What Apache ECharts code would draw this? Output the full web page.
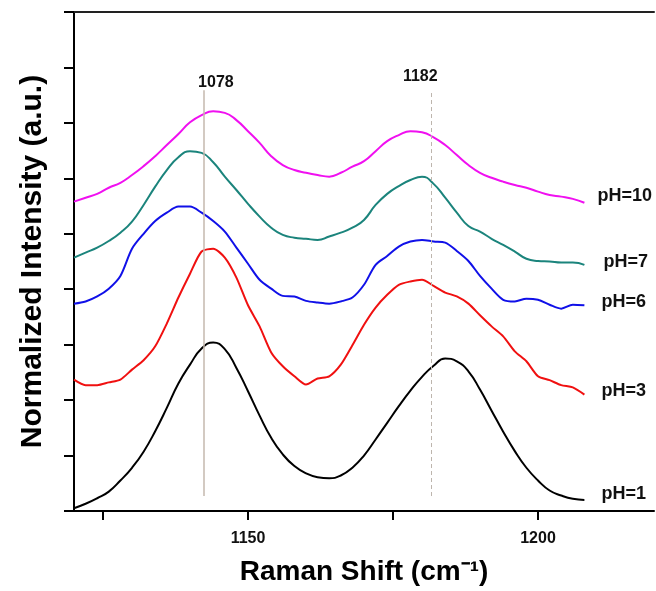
<!DOCTYPE html>
<html>
<head>
<meta charset="utf-8">
<script src="https://cdn.jsdelivr.net/npm/echarts@6/dist/echarts.min.js"></script>
<style>
  html, body { margin: 0; padding: 0; background: #fff; }
  #main { width: 656px; height: 591px; }
</style>
</head>
<body>
<div id="main"></div>
<script>
// Raman shift grid (cm-1), shared by every spectrum
const shift = [1120, 1122, 1124, 1126, 1128, 1130, 1132, 1134, 1136, 1138,
  1140, 1142, 1144, 1146, 1148, 1150, 1152, 1154, 1156, 1158,
  1160, 1162, 1164, 1166, 1168, 1170, 1172, 1174, 1176, 1178,
  1180, 1182, 1184, 1186, 1188, 1190, 1192, 1194, 1196, 1198,
  1200, 1202, 1204, 1206, 1208];

// normalized intensity, stacked with an offset
const ph1 = [0.05, 0.13, 0.23, 0.35, 0.55, 0.78, 1.07, 1.44, 1.86, 2.30,
  2.64, 2.93, 3.04, 2.92, 2.58, 2.16, 1.72, 1.32, 1.02, 0.81,
  0.68, 0.61, 0.59, 0.64, 0.78, 1.00, 1.29, 1.59, 1.89, 2.17,
  2.42, 2.62, 2.75, 2.70, 2.52, 2.19, 1.81, 1.43, 1.08, 0.78,
  0.55, 0.37, 0.28, 0.22, 0.20];
const ph3 = [2.37, 2.27, 2.27, 2.32, 2.37, 2.55, 2.72, 2.97, 3.38, 3.85,
  4.28, 4.68, 4.73, 4.57, 4.21, 3.71, 3.33, 2.86, 2.61, 2.43,
  2.28, 2.39, 2.43, 2.64, 2.99, 3.36, 3.67, 3.90, 4.08, 4.14,
  4.17, 4.06, 3.94, 3.87, 3.74, 3.53, 3.33, 3.15, 2.88, 2.70,
  2.43, 2.36, 2.27, 2.23, 2.10];
const ph6 = [3.74, 3.78, 3.87, 4.01, 4.24, 4.73, 5.00, 5.23, 5.38, 5.49,
  5.49, 5.38, 5.23, 5.04, 4.75, 4.46, 4.17, 4.01, 3.88, 3.87,
  3.79, 3.76, 3.74, 3.78, 3.85, 4.08, 4.44, 4.60, 4.77, 4.86,
  4.89, 4.86, 4.84, 4.69, 4.51, 4.24, 4.01, 3.81, 3.78, 3.83,
  3.81, 3.72, 3.65, 3.72, 3.71];
const ph7 = [4.57, 4.66, 4.75, 4.87, 5.02, 5.22, 5.52, 5.85, 6.15, 6.38,
  6.49, 6.46, 6.29, 6.03, 5.79, 5.54, 5.31, 5.11, 4.98, 4.93,
  4.91, 4.89, 4.95, 5.02, 5.11, 5.25, 5.52, 5.72, 5.86, 5.97,
  6.03, 5.90, 5.65, 5.38, 5.14, 5.04, 4.91, 4.80, 4.68, 4.55,
  4.51, 4.50, 4.48, 4.48, 4.44];
const ph10 = [5.58, 5.65, 5.72, 5.83, 5.92, 6.06, 6.22, 6.40, 6.60, 6.80,
  7.01, 7.14, 7.21, 7.18, 7.05, 6.85, 6.64, 6.40, 6.24, 6.15,
  6.10, 6.06, 6.03, 6.10, 6.21, 6.31, 6.49, 6.67, 6.78, 6.85,
  6.83, 6.74, 6.60, 6.42, 6.24, 6.10, 6.01, 5.94, 5.88, 5.83,
  5.76, 5.70, 5.67, 5.63, 5.56];

const seriesNames = ['pH=1', 'pH=3', 'pH=6', 'pH=7', 'pH=10'];
const seriesColors = ['#000000', '#f01010', '#1010e8', '#1b847c', '#f010f0'];

// reference peak lines
const peakPos = [1142.4, 1181.6];
const peakText = ['1078', '1182'];
const peakSpan = [[0.27, 7.59], [0.27, 7.55]];

const FONT = '"Liberation Sans", Arial, sans-serif';

const zip = (ys) => shift.map((x, i) => [x, ys[i]]);

const chartDom = document.getElementById('main');
const myChart = echarts.init(chartDom);

const labelOffsets = [[9, -6], [9, -4], [9, -3], [11, -3], [5, -7]];
const smoothing = [0.5, 0.25, 0.3, 0.5, 0.5];
const allData = [ph1, ph3, ph6, ph7, ph10];

const series = allData.map((ys, i) => ({
  name: seriesNames[i],
  type: 'line',
  data: zip(ys),
  showSymbol: false,
  smooth: smoothing[i],
  lineStyle: { color: seriesColors[i], width: 2 },
  itemStyle: { color: seriesColors[i] },
  endLabel: {
    show: true,
    formatter: '{a}',
    offset: labelOffsets[i],
    fontFamily: FONT,
    fontSize: 18,
    fontWeight: 'bold',
    color: '#111'
  }
}));

series[0].markLine = {
  silent: true,
  symbol: 'none',
  data: [
    [
      {
        coord: [peakPos[0], peakSpan[0][0]],
        lineStyle: { color: '#c4b9ae', width: 1.5, type: 'solid' },
        label: {
          show: true, position: 'end', formatter: peakText[0], distance: 0,
          padding: [0, 0, 0, 24], fontFamily: FONT, fontSize: 16, fontWeight: 'bold', color: '#111'
        }
      },
      { coord: [peakPos[0], peakSpan[0][1]] }
    ],
    [
      {
        coord: [peakPos[1], peakSpan[1][0]],
        lineStyle: { color: '#bdb5ad', width: 1, type: [4, 3] },
        label: {
          show: true, position: 'end', formatter: peakText[1], distance: 8,
          padding: [0, 22, 0, 0], fontFamily: FONT, fontSize: 16, fontWeight: 'bold', color: '#111'
        }
      },
      { coord: [peakPos[1], peakSpan[1][1]] }
    ]
  ]
};

const option = {
  animation: false,
  backgroundColor: '#fff',
  grid: { left: 74, right: 2, top: 12, bottom: 79, containLabel: false },
  xAxis: [
    {
      type: 'value',
      min: 1120,
      max: 1220,
      name: 'Raman Shift (cm⁻¹)',
      nameLocation: 'middle',
      nameGap: 47,
      nameTextStyle: { fontFamily: FONT, fontSize: 28, fontWeight: 'bold', color: '#000' },
      axisLine: { show: true, lineStyle: { color: '#000', width: 2 } },
      axisTick: { show: true, length: 9, lineStyle: { color: '#000', width: 2 }, customValues: [1125, 1150, 1175, 1200] },
      axisLabel: {
        show: true, margin: 20, fontFamily: FONT, fontSize: 16, fontWeight: 'bold', color: '#111',
        customValues: [1150, 1200], formatter: (v) => String(v)
      },
      splitLine: { show: false }
    },
    {
      type: 'value',
      position: 'top',
      min: 1120,
      max: 1220,
      axisLine: { show: true, onZero: false, lineStyle: { color: '#222', width: 2 } },
      axisTick: { show: false },
      axisLabel: { show: false },
      splitLine: { show: false }
    }
  ],
  yAxis: {
    type: 'value',
    min: 0,
    max: 9,
    interval: 1,
    name: 'Normalized Intensity (a.u.)',
    nameLocation: 'middle',
    nameGap: 26,
    nameTextStyle: { fontFamily: FONT, fontSize: 30, fontWeight: 'bold', color: '#000' },
    axisLine: { show: true, lineStyle: { color: '#000', width: 2 } },
    axisTick: { show: true, length: 10, lineStyle: { color: '#000', width: 2 } },
    axisLabel: { show: false },
    splitLine: { show: false }
  },
  series: series
};

option && myChart.setOption(option);
</script>
</body>
</html>
